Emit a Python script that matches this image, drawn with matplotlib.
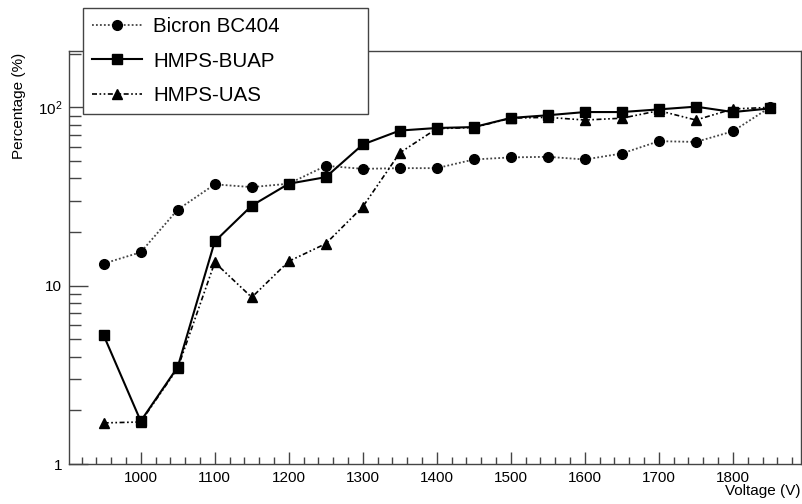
import numpy as np
import matplotlib
matplotlib.use('Agg')
import matplotlib.pyplot as plt
from matplotlib.ticker import FixedLocator, NullFormatter

plt.rcParams['font.family'] = ['Liberation Sans', 'DejaVu Sans']
plt.rcParams['mathtext.fontset'] = 'custom'
plt.rcParams['mathtext.rm'] = 'Liberation Sans'
plt.rcParams['mathtext.it'] = 'Liberation Sans'

voltage = [950, 1000, 1050, 1100, 1150, 1200, 1250, 1300, 1350, 1400,
           1450, 1500, 1550, 1600, 1650, 1700, 1750, 1800, 1850]

bicron = [13.3, 15.4, 26.7, 37.0, 35.7, 37.3, 47.0, 45.2, 45.6, 45.6,
          51.0, 52.4, 52.8, 51.0, 55.1, 64.6, 64.0, 73.4, 100.0]
buap = [5.26, 1.74, 3.50, 17.7, 28.1, 37.3, 40.6, 61.9, 74.1, 76.6,
        77.5, 87.2, 90.3, 94.1, 94.1, 97.4, 100.9, 94.1, 98.6]
uas = [1.70, 1.72, 3.45, 13.5, 8.6, 13.7, 17.2, 27.7, 55.6, 76.0,
       77.0, 87.0, 87.9, 84.9, 86.9, 95.8, 84.9, 97.9, 100.0]

labels = ['Bicron BC404', 'HMPS-BUAP', 'HMPS-UAS']

fig = plt.figure(figsize=(8.03, 5.04), dpi=100)
ax = fig.add_axes([69.3 / 803, 1 - 464 / 504, (801 - 69.3) / 803, (464 - 51) / 504])

l1, = ax.plot(voltage, bicron, color='#444444', linestyle=(0, (1, 1.2)), linewidth=1.3,
              marker='o', markersize=7, markerfacecolor='black', markeredgecolor='black')
l2, = ax.plot(voltage, buap, color='black', linestyle='-', linewidth=1.5,
              marker='s', markersize=7, markerfacecolor='black', markeredgecolor='black')
l3, = ax.plot(voltage, uas, color='black', linestyle=(0, (3, 1.5, 1, 1.5, 1, 1.5)), linewidth=1.2,
              marker='^', markersize=7, markerfacecolor='black', markeredgecolor='black')

ax.set_yscale('log')
ax.set_xlim(903.5, 1892)
ax.set_ylim(1, 207)

ax.xaxis.set_major_locator(FixedLocator(np.arange(1000, 1900, 100)))
ax.xaxis.set_minor_locator(FixedLocator([v for v in range(920, 1892, 20) if v % 100 != 0]))
ax.yaxis.set_major_locator(FixedLocator([1, 10, 100]))
ax.yaxis.set_minor_locator(FixedLocator([m * d for d in (1, 10, 100) for m in range(2, 10) if m * d < 207]))
ax.set_yticklabels(['1', '10', r'$10^{2}$'])
ax.yaxis.set_minor_formatter(NullFormatter())

ax.tick_params(axis='both', which='both', direction='in', top=False, right=False,
               labelsize=11, color='#444444', width=1)
ax.tick_params(axis='x', which='major', length=9, pad=5)
ax.tick_params(axis='x', which='minor', length=5)
ax.tick_params(axis='y', which='major', length=14, pad=5)
ax.tick_params(axis='y', which='minor', length=8.5)

for s in ax.spines.values():
    s.set_color('#444444')
    s.set_linewidth(1)

fig.text(801 / 803, 1 - 491 / 504, 'Voltage (V)', ha='right', va='center', fontsize=11)
fig.text(19 / 803, 1 - 53 / 504, 'Percentage (%)', ha='center', va='top', rotation=90, fontsize=11)

leg = fig.legend([l1, l2, l3], labels, loc='upper left',
                 bbox_to_anchor=(83 / 803, 1 - 8 / 504, 285 / 803, 0), mode='expand',
                 fontsize=14.8, frameon=True, fancybox=False, framealpha=1,
                 edgecolor='#444444', borderpad=0.45, handlelength=2.4,
                 handletextpad=0.55, labelspacing=0.75, borderaxespad=0)
leg.get_frame().set_linewidth(1)

fig.savefig('out.png', dpi=100)
